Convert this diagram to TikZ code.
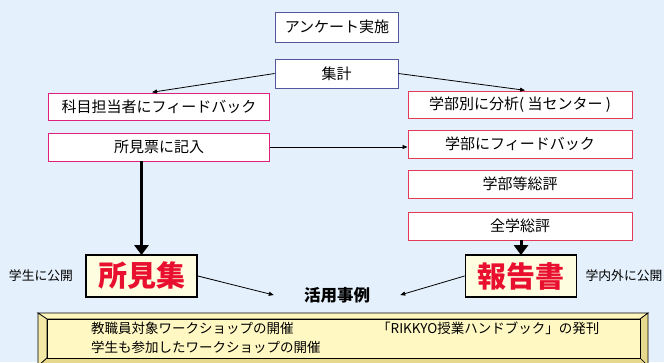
\documentclass[tikz,border=0pt]{standalone}
\usepackage{fontspec}
\setmainfont{Noto Sans CJK JP}
\usetikzlibrary{arrows.meta}
\definecolor{bg}{HTML}{E4F0FB}
\definecolor{purp}{HTML}{55559C}
\definecolor{mag}{HTML}{E0207F}
\definecolor{crim}{HTML}{E23A58}
\definecolor{cream}{HTML}{FFFDE0}
\definecolor{bigred}{HTML}{E8102E}
\definecolor{bevtop}{HTML}{FFF6BE}
\definecolor{bevside}{HTML}{F3E8A6}
\definecolor{bevdark}{HTML}{E6D98E}
\definecolor{bevin}{HTML}{FFF8C2}
\begin{document}
\begin{tikzpicture}[x=1pt,y=-1pt,
  basebox/.style={draw, fill=white, line width=0.9pt, inner sep=0pt, font=\fontsize{15}{17}\selectfont},
  topbox/.style={basebox, draw=purp, minimum width=123pt},
  leftbox/.style={basebox, draw=mag, minimum width=221pt},
  rightbox/.style={basebox, draw=crim, minimum width=224pt},
  bigbox/.style={draw=black, fill=cream, line width=1.8pt, minimum width=111pt, minimum height=42pt, inner sep=0pt, text=bigred, font=\fontsize{29}{31}\selectfont\bfseries},
  lbl/.style={font=\fontsize{12.8}{14}\selectfont, inner sep=0pt},
  thin/.style={-{Triangle[length=5pt,width=4pt]}, line width=0.8pt},
  thick/.style={-{Triangle[length=10pt,width=14pt]}, line width=3pt, shorten >=-1pt},
  ex/.style={font=\fontsize{13.5}{15}\selectfont, inner sep=0pt, anchor=west}]
\fill[bg] (0,0) rectangle (664,362);
\useasboundingbox (0,0) rectangle (664,362);

\node[topbox, minimum height=30pt] (A) at (337,27) {アンケート実施};
\node[topbox, minimum height=29pt] (B) at (336.5,73.5) {集計};
\node[leftbox, minimum height=27pt] (C) at (159,106.5) {科目担当者にフィードバック};
\node[leftbox, minimum height=28pt] (D) at (159,147) {所見票に記入};
\node[rightbox, minimum height=27pt] (E) at (520,104.5) {学部別に分析( 当センター )};
\node[rightbox, minimum height=28pt] (F) at (520,144) {学部にフィードバック};
\node[rightbox, minimum height=28pt] (G) at (520,184) {学部等総評};
\node[rightbox, minimum height=28pt] (H) at (520,226) {全学総評};
\node[bigbox] (I) at (141.5,276) {所見集};
\node[bigbox] (J) at (521,276) {報告書};
\node[lbl] (L1) at (41,276) {学生に公開};
\node[lbl] (L2) at (624,276) {学内外に公開};
\node[font=\fontsize{16.5}{18}\selectfont\bfseries, inner xsep=30pt, inner ysep=0pt] (K) at (337,295) {活用事例};

% bevel frame
\begin{scope}
\clip (0,0) rectangle (664,362);
\filldraw[fill=bevtop, draw=black, line width=0.7pt] (38,313) -- (648,313) -- (640,319) -- (47,319) -- cycle;
\filldraw[fill=bevside, draw=black, line width=0.7pt] (38,313) -- (47,319) -- (47,358) -- (38,366) -- cycle;
\filldraw[fill=bevdark, draw=black, line width=0.7pt] (648,313) -- (648,366) -- (640,358) -- (640,319) -- cycle;
\filldraw[fill=bevdark, draw=black, line width=0.7pt] (47,358) -- (640,358) -- (648,366) -- (38,366) -- cycle;
\filldraw[fill=bevin, draw=black, line width=0.7pt] (47,319) rectangle (640,358);
\end{scope}
\node[ex] (T1) at (91,328) {教職員対象ワークショップの開催};
\node[ex] (T2) at (377,328) {「RIKKYO授業ハンドブック」の発刊};
\node[ex] (T3) at (91,347) {学生も参加したワークショップの開催};

% connectors
\draw[thin, shorten >=2pt] (B.west) -- ([xshift=-9pt]C.north);
\draw[thin, shorten >=2pt] (B.east) -- ([xshift=7pt]E.north);
\draw[thin] (D.east) -- (D.east -| F.west);
\draw[thick] (I.north |- D.south) -- (I.north);
\draw[thick] (J.north |- H.south) -- (J.north);
\draw[thin] (I.east) -- (K.west);
\draw[thin] (J.west) -- (K.east);
\end{tikzpicture}
\end{document}
